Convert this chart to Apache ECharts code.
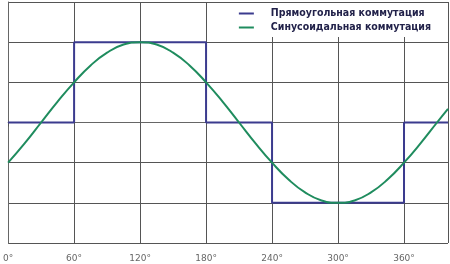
<!DOCTYPE html>
<html><head><meta charset="utf-8">
<script src="https://cdn.jsdelivr.net/npm/echarts@6/dist/echarts.min.js"></script>
<style>html,body{margin:0;padding:0;background:#fff}#c{width:450px;height:264px}</style>
</head><body><div id="c"></div>
<script>
var seriesNames = ['Прямоугольная коммутация', 'Синусоидальная коммутация'];
var xTicks = [0, 60, 120, 180, 240, 300, 360];
// rectangular commutation: [angle, level]
var squareAngles = [0, 60, 60, 180, 180, 240, 240, 360, 360, 400];
var squareValues = [0, 0, 1, 1, 0, 0, -1, -1, 0, 0];
// sinusoidal commutation
var sineAngles = [0, 15, 30, 45, 60, 75, 90, 105, 120, 135, 150, 165, 180, 195, 210, 225, 240, 255, 270, 285, 300, 315, 330, 345, 360, 375, 390, 400];
var sineValues = [-0.5, -0.26, 0, 0.26, 0.5, 0.71, 0.87, 0.97, 1, 0.97, 0.87, 0.71, 0.5, 0.26, 0, -0.26, -0.5, -0.71, -0.87, -0.97, -1, -0.97, -0.87, -0.71, -0.5, -0.26, 0, 0.17];

var sq = squareAngles.map(function (a, i) { return [a, squareValues[i]]; });
var sn = sineAngles.map(function (a, i) { return [a, sineValues[i]]; });

var chart = echarts.init(document.getElementById('c'));
chart.setOption({
  animation: false,
  backgroundColor: '#fff',
  grid: { left: 6, right: 2, top: 2, bottom: 21, containLabel: false },
  legend: {
    orient: 'vertical',
    right: 3, top: 3,
    backgroundColor: '#fff',
    padding: [5, 16, 4, 30],
    itemGap: 3,
    itemWidth: 15,
    itemHeight: 10,
    icon: 'path://M0,4 L15,4 L15,6 L0,6 Z',
    textStyle: { fontFamily: 'DejaVu Sans Condensed, Liberation Sans, sans-serif', fontWeight: 'bold', fontSize: 10.5, color: '#22224a', padding: [0, 0, 0, 12] },
    data: seriesNames
  },
  xAxis: {
    type: 'value', min: 0, max: 400, interval: 60,
    axisLine: { show: true, lineStyle: { color: '#666', width: 1 } },
    axisTick: { show: true, length: 4, lineStyle: { color: '#555' } },
    axisLabel: { showMaxLabel: false, fontSize: 9, color: '#666', margin: 11, fontFamily: 'DejaVu Sans',
      formatter: function (v) { return xTicks.indexOf(v) >= 0 ? v + '°' : ''; } },
    splitLine: { show: true, lineStyle: { color: '#555', width: 1 } }
  },
  yAxis: {
    type: 'value', min: -1.5, max: 1.5, interval: 0.5,
    axisLine: { show: true, lineStyle: { color: '#666' } },
    axisTick: { show: false },
    axisLabel: { show: false },
    splitLine: { show: true, lineStyle: { color: '#555', width: 1 } }
  },
  series: [
    { name: seriesNames[0], type: 'line', data: sq, symbol: 'none', color: '#3b3b8e',
      lineStyle: { width: 2, color: '#3b3b8e' } },
    { name: seriesNames[1], type: 'line', data: sn, symbol: 'none', smooth: true, color: '#1f8c5e',
      lineStyle: { width: 2, color: '#1f8c5e' } }
  ]
});
</script></body></html>
